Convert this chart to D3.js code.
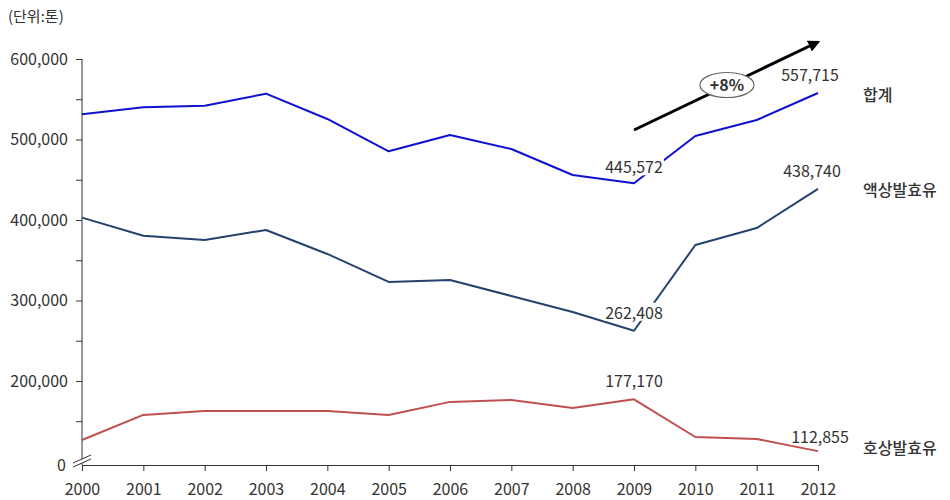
<!DOCTYPE html>
<html>
<head>
<meta charset="utf-8">
<script src="https://cdn.jsdelivr.net/npm/d3@7"></script>
<style>
  html, body { margin: 0; padding: 0; background: #fff; }
  svg { display: block; }
  text { font-family: "Noto Sans CJK KR", "Noto Sans", sans-serif; fill: #333; }
</style>
</head>
<body>
<svg id="chart" width="950" height="500"></svg>
<script>
// Yearly fermented milk production (tons)
const years = ["2000","2001","2002","2003","2004","2005","2006","2007","2008","2009","2010","2011","2012"];
const totalValues  = [531300, 540000, 542000, 556900, 525500, 485300, 505600, 488200, 455900, 445572, 504300, 524200, 557715];
const liquidValues = [402900, 380500, 375200, 387600, 357800, 323000, 325500, 305600, 285700, 262408, 368900, 390000, 438740];
const curdValues   = [126700, 157800, 162700, 162700, 162700, 157800, 174000, 176400, 166500, 177170, 130400, 128000, 112855];

const seriesNames = ["합계", "액상발효유", "호상발효유"];
const majorTicks = [200000, 300000, 400000, 500000, 600000];
const minorTicks = [150000, 250000, 350000, 450000, 550000];
const unitLabel = "(단위:톤)";
const growthLabel = "+8%";

// value labels shown on the lines: [series index, year index]
const valueLabels = [[0, 9], [0, 12], [1, 9], [1, 12], [2, 9], [2, 12]];

const svg = d3.select("#chart");
const fmt = d3.format(",");

// the axis is broken below 200,000; the bottom of the axis stands for 0
const axisFloor = 95600;
const x = d3.scalePoint().domain(years).range([82, 818]);
const y = d3.scaleLinear().domain([axisFloor, 600000]).range([465, 59]);

const series = [
  { name: seriesNames[0], values: totalValues,  color: "#1010d0" },
  { name: seriesNames[1], values: liquidValues, color: "#24426e" },
  { name: seriesNames[2], values: curdValues,   color: "#c0504d" }
];

// unit caption
svg.append("text").attr("x", 8).attr("y", 22)
  .attr("font-size", 15).text(unitLabel);

// y axis
const yAxis = svg.append("g").attr("transform", `translate(${x(years[0])},0)`);
yAxis.call(d3.axisLeft(y).tickValues(majorTicks).tickFormat(fmt).tickSize(6).tickPadding(8));
yAxis.append("g").call(d3.axisLeft(y).tickValues(minorTicks).tickFormat("").tickSize(6));
yAxis.selectAll(".domain").remove();
yAxis.selectAll("line").attr("stroke", "#333");
yAxis.selectAll("text").attr("font-size", 16).attr("fill", "#333")
  .style("font-family", "'Noto Sans CJK KR', sans-serif");
yAxis.append("line").attr("x1", 0).attr("x2", 0)
  .attr("y1", y(600000)).attr("y2", y(axisFloor)).attr("stroke", "#333");
// zero label at the foot of the broken axis
yAxis.append("text").attr("x", -16).attr("y", y(axisFloor)).attr("dy", "0.35em")
  .attr("text-anchor", "end").attr("font-size", 16).text("0");
// break marks
const brk = yAxis.append("g").attr("transform", `translate(0,${y(axisFloor) - 7})`);
brk.append("path").attr("d", "M-9,5 L9,-3 L9,1 L-9,9 Z").attr("fill", "#fff");
brk.append("line").attr("x1", -9).attr("y1", 5).attr("x2", 9).attr("y2", -3).attr("stroke", "#333");
brk.append("line").attr("x1", -9).attr("y1", 9).attr("x2", 9).attr("y2", 1).attr("stroke", "#333");

// x axis
const xAxis = svg.append("g").attr("transform", `translate(0,${y(axisFloor)})`);
xAxis.call(d3.axisBottom(x).tickSize(6).tickPadding(13));
xAxis.selectAll(".domain").attr("stroke", "#333");
xAxis.selectAll("line").attr("stroke", "#333");
xAxis.selectAll("text").attr("font-size", 16).attr("fill", "#333")
  .style("font-family", "'Noto Sans CJK KR', sans-serif");

// series lines
const line = d3.line().x((d, i) => x(years[i])).y(d => y(d));
series.forEach(s => {
  svg.append("path").datum(s.values)
    .attr("fill", "none").attr("stroke", s.color)
    .attr("stroke-width", 2).attr("stroke-linejoin", "round")
    .attr("d", line);
});

// value labels
const labelOffset = { "0,9": [0, -10], "0,12": [-8, -12], "1,9": [0, -12], "1,12": [-6, -12], "2,9": [0, -12], "2,12": [2, -8] };
valueLabels.forEach(([si, yi]) => {
  const v = series[si].values[yi];
  const off = labelOffset[si + "," + yi];
  const t = svg.append("text")
    .attr("x", x(years[yi]) + off[0]).attr("y", y(v) + off[1])
    .attr("text-anchor", "middle").attr("font-size", 16).attr("fill", "#222")
    .text(fmt(v));
  // white backing so the label reads over the line
  const bb = t.node().getBBox();
  svg.insert("rect", () => t.node())
    .attr("x", bb.x - 1).attr("y", bb.y + 3).attr("width", bb.width + 2).attr("height", bb.height - 6)
    .attr("fill", "#fff");
});

// series names at the right end
const nameY = [95, 190, 448];
series.forEach((s, i) => {
  svg.append("text").attr("x", 863).attr("y", nameY[i]).attr("dy", "0.35em")
    .attr("font-size", 16).attr("font-weight", 500).attr("fill", "#222").text(s.name);
});

// growth arrow from 2009 to 2012
const defs = svg.append("defs");
defs.append("marker").attr("id", "arrowhead").attr("viewBox", "0 0 10 10")
  .attr("refX", 8).attr("refY", 5).attr("markerWidth", 4).attr("markerHeight", 4)
  .attr("orient", "auto")
  .append("path").attr("d", "M0,0 L10,5 L0,10 Z").attr("fill", "#000");
const ax1 = x(years[9]), ay1 = 130, ax2 = x(years[12]), ay2 = 42;
svg.append("line").attr("x1", ax1).attr("y1", ay1).attr("x2", ax2).attr("y2", ay2)
  .attr("stroke", "#000").attr("stroke-width", 3).attr("marker-end", "url(#arrowhead)");
const ex = 727, ey = 85;
svg.append("ellipse").attr("cx", ex).attr("cy", ey).attr("rx", 27).attr("ry", 12.5)
  .attr("fill", "#fff").attr("stroke", "#666").attr("stroke-width", 1.2);
svg.append("text").attr("x", ex).attr("y", ey).attr("dy", "0.36em")
  .attr("text-anchor", "middle").attr("font-size", 16).attr("font-weight", 700)
  .attr("fill", "#222").text(growthLabel);
</script>
</body>
</html>
